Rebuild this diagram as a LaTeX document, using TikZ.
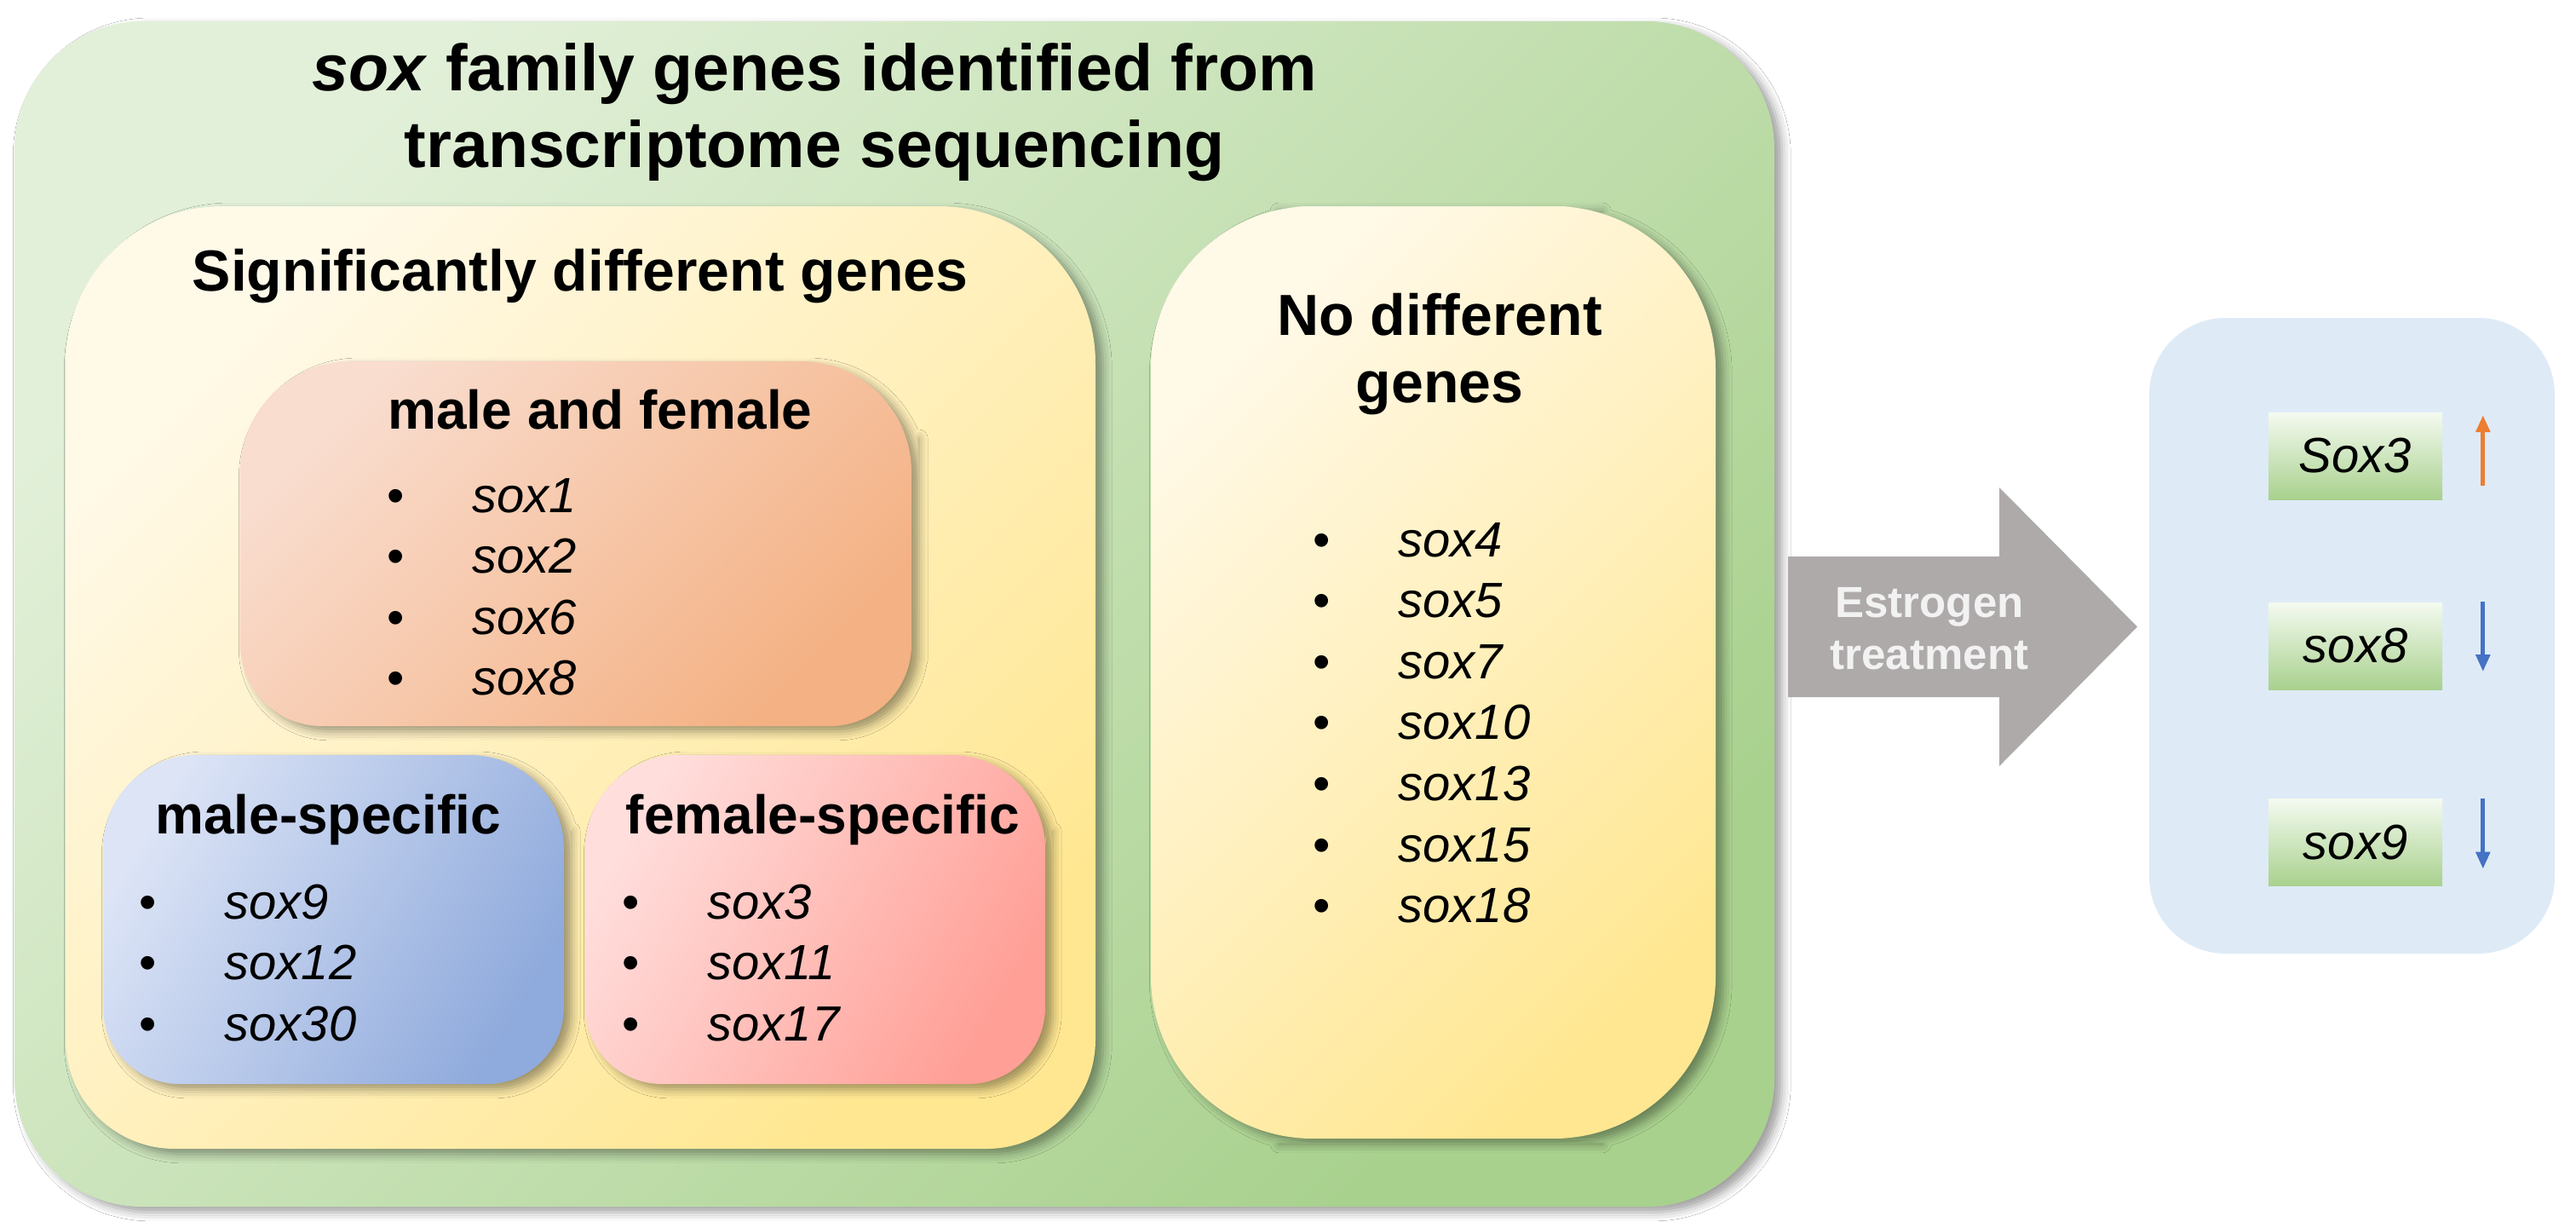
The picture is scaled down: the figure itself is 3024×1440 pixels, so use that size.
\documentclass[tikz,border=0pt]{standalone}
\usepackage{fontspec}
\setmainfont{Liberation Sans}
\usetikzlibrary{arrows.meta,shadows.blur,calc}

\definecolor{greenA}{HTML}{E2F0D9}
\definecolor{greenB}{HTML}{A9D18E}
\definecolor{yelA}{HTML}{FFF9E8}
\definecolor{yelB}{HTML}{FFE792}
\definecolor{mfA}{HTML}{F9DDCF}
\definecolor{mfB}{HTML}{F4B183}
\definecolor{msA}{HTML}{DCE4F6}
\definecolor{msB}{HTML}{8FAADC}
\definecolor{fsA}{HTML}{FFDEDC}
\definecolor{fsB}{HTML}{FF9F96}
\definecolor{blueBox}{HTML}{DEEBF7}
\definecolor{arrowGray}{HTML}{AEAAAA}
\definecolor{estText}{HTML}{F2F2F2}
\definecolor{geneTop}{HTML}{F4FAF0}
\definecolor{geneBot}{HTML}{A9D18E}
\definecolor{upOrange}{HTML}{ED7D31}
\definecolor{downBlue}{HTML}{4472C4}

% rounded box with separate top / bottom corner radii
% #1 style, #2 x1, #3 y1, #4 x2, #5 y2, #6 top radius, #7 bottom radius
\newcommand\rrbox[7]{%
  \path[#1] (#2,{(#3+#5)/2}) [rounded corners=#6] |- ({(#2+#4)/2},#3) -| (#4,{(#3+#5)/2})
    [rounded corners=#7] |- ({(#2+#4)/2},#5) -| (#2,{(#3+#5)/2+0.01});}

\newcommand\twoline[2]{\begin{tabular}[t]{@{}c@{}}#1\\#2\end{tabular}}
\newcommand\genelist[1]{\begin{tabular}[t]{@{}l@{\hspace{19.9pt}}l@{}}#1\end{tabular}}

\begin{document}
\begin{tikzpicture}[x=0.25pt,y=-0.25pt,
  boxshadow/.style={blur shadow={shadow xshift=2.2pt,shadow yshift=-1.6pt,
      shadow blur radius=2.6pt,shadow opacity=38}},
  grad/.style 2 args={top color=#1,bottom color=#2,shading angle=45},
  ttl/.style={font=\bfseries\fontsize{19.25}{22.5}\selectfont,inner sep=0,anchor=base},
  hdr/.style={font=\bfseries\fontsize{17}{19.75}\selectfont,inner sep=0,anchor=base},
  sub/.style={font=\bfseries\fontsize{16}{19}\selectfont,inner sep=0,anchor=base},
  lst/.style={font=\fontsize{14.5}{17.9}\selectfont,inner sep=0,anchor=base west},
  est/.style={font=\bfseries\fontsize{12.75}{15.25}\selectfont,text=estText,inner sep=0,anchor=base},
  genebox/.style={rectangle,minimum width=51pt,minimum height=25.5pt,inner sep=0,
      top color=geneTop,bottom color=geneBot,font=\itshape\fontsize{14.5}{17}\selectfont},
  updown/.style={line width=1.25pt,-{Triangle[width=4pt,length=5pt]}}
]
\useasboundingbox (0,0) rectangle (3024,1440);
\fill[white] (0,0) rectangle (3024,1440);

% ---- outer green box
\rrbox{boxshadow,grad={greenA}{greenB}}{17}{25}{2083}{1416}{37.5pt}{37.5pt}
\node[ttl] (title) at (956,106) {\twoline{\textit{sox} family genes identified from}{transcriptome sequencing}};

% ---- significantly different genes
\rrbox{boxshadow,grad={yelA}{yelB}}{77}{242}{1286}{1348}{46pt}{32pt}
\node[hdr] (sig) at (681,341) {Significantly different genes};

% male and female
\rrbox{boxshadow,grad={mfA}{mfB}}{282}{424}{1070}{852}{32.5pt}{24pt}
\node[sub] (mf) at (704.5,503) {male and female};
\node[lst] (mflist) at (454,601) {\genelist{•&\textit{sox1}\\ •&\textit{sox2}\\ •&\textit{sox6}\\ •&\textit{sox8}}};

% male-specific
\rrbox{boxshadow,top color=msA,bottom color=msB,shading angle=60}{121}{886}{662}{1272}{27.5pt}{22.5pt}
\node[sub] (ms) at (385,978) {male-specific};
\node[lst] (mslist) at (163,1078) {\genelist{•&\textit{sox9}\\ •&\textit{sox12}\\ •&\textit{sox30}}};

% female-specific
\rrbox{boxshadow,top color=fsA,bottom color=fsB,shading angle=60}{687}{886}{1227}{1272}{27.5pt}{22.5pt}
\node[sub] (fs) at (966,978) {female-specific};
\node[lst] (fslist) at (730,1078) {\genelist{•&\textit{sox3}\\ •&\textit{sox11}\\ •&\textit{sox17}}};

% ---- no different genes
\rrbox{boxshadow,grad={yelA}{yelB}}{1351}{242}{2014}{1336}{47.5pt}{47.5pt}
\node[hdr] (nd) at (1690,393) {\twoline{No different}{genes}};
\node[lst] (ndlist) at (1541,653) {\genelist{•&\textit{sox4}\\ •&\textit{sox5}\\ •&\textit{sox7}\\ •&\textit{sox10}\\ •&\textit{sox13}\\ •&\textit{sox15}\\ •&\textit{sox18}}};

% ---- estrogen arrow
\fill[arrowGray] (2099,653) -- (2347,653) -- (2347,572) -- (2509,735.5)
  -- (2347,899) -- (2347,818) -- (2099,818) -- cycle;
\node[est] (estro) at (2265,724) {\twoline{Estrogen}{treatment}};

% ---- result box
\rrbox{fill=blueBox}{2523}{373}{2999}{1119}{22.5pt}{22.5pt}
\node[genebox] (g3) at (2765,535) {Sox3};
\node[genebox] (g8) at (2765,758) {sox8};
\node[genebox] (g9) at (2765,988.5) {sox9};

\coordinate (a3s) at ($(g3.east)+(47,35)$);
\coordinate (a3e) at ($(g3.east)+(47,-48)$);
\coordinate (a8s) at ($(g8.north east)+(47,0)$);
\coordinate (a8e) at ($(g8.north east)+(47,82)$);
\coordinate (a9s) at ($(g9.north east)+(47,0)$);
\coordinate (a9e) at ($(g9.north east)+(47,83)$);
\draw[updown,upOrange] (a3s) -- (a3e);
\draw[updown,downBlue] (a8s) -- (a8e);
\draw[updown,downBlue] (a9s) -- (a9e);
\end{tikzpicture}
\end{document}
